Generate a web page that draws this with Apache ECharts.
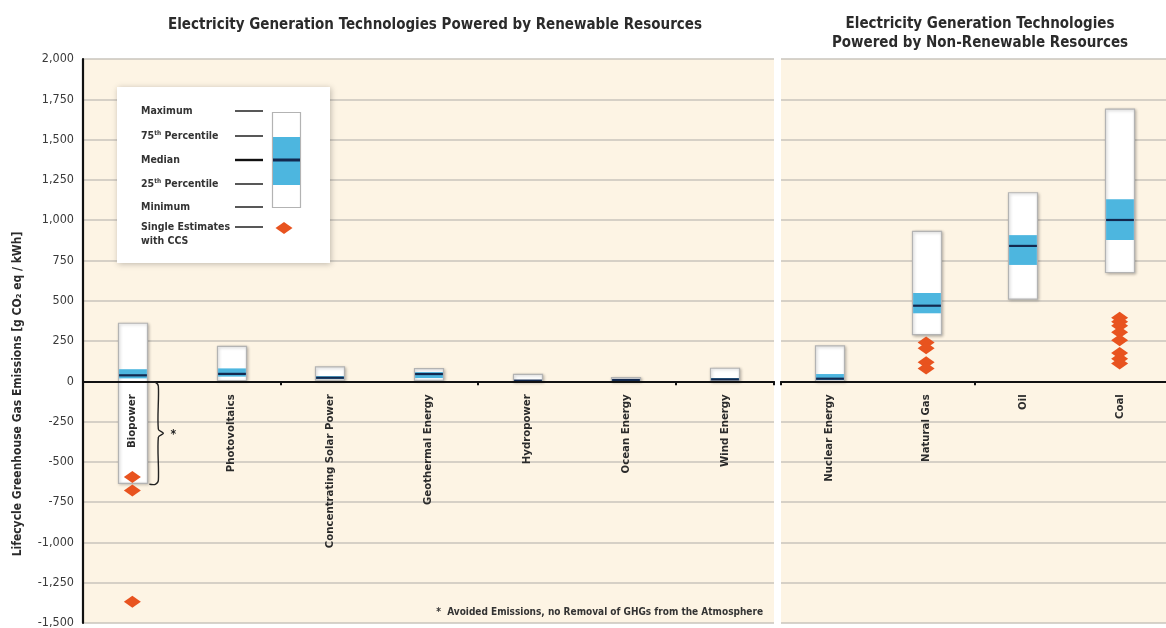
<!DOCTYPE html>
<html><head><meta charset="utf-8">
<script src="https://cdn.jsdelivr.net/npm/echarts@6/dist/echarts.min.js"></script>
<style>html,body{margin:0;padding:0;background:#fff}#c{width:1166px;height:628px}</style>
</head><body><div id="c"></div>
<script>
// ---- data ----
const renewableCategories = ['Biopower','Photovoltaics','Concentrating Solar Power','Geothermal Energy','Hydropower','Ocean Energy','Wind Energy'];
const renewableMin    = [-633, 5, 7, 6, 0, 2, 2];
const renewableQ1     = [18, 29, 14, 20, 3, 6, 8];
const renewableMedian = [37, 46, 22, 45, 4, 8, 12];
const renewableQ3     = [75, 80, 32, 57, 7, 9, 20];
const renewableMax    = [360, 217, 89, 79, 43, 23, 81];

const nonRenewableCategories = ['Nuclear Energy','Natural Gas','Oil','Coal'];
const nonRenewableMin    = [1, 290, 510, 675];
const nonRenewableQ1     = [8, 422, 722, 877];
const nonRenewableMedian = [16, 469, 840, 1001];
const nonRenewableQ3     = [45, 548, 907, 1130];
const nonRenewableMax    = [220, 930, 1170, 1689];

const biopowerCCS   = [-594, -677, -1368];
const naturalGasCCS = [240, 205, 118, 80];
const coalCCS       = [395, 370, 345, 305, 255, 175, 140, 110];

const yMin = -1500, yMax = 2000, yStep = 250;

// ---- build ----
const FONT = '"Liberation Sans Narrow","DejaVu Sans Condensed","Open Sans",sans-serif';
const TXT = '#2b2b2b';

function boxRows(cats, mn, q1, md, q3, mx) {
  return cats.map((c, i) => [i, mn[i], q1[i], md[i], q3[i], mx[i]]);
}
function makeRenderBox(cats) {
  return function (params, api) {
    const x = api.value(0);
    const lo = api.coord([x, api.value(1)]);
    const q1 = api.coord([x, api.value(2)]);
    const md = api.coord([x, api.value(3)]);
    const q3 = api.coord([x, api.value(4)]);
    const hi = api.coord([x, api.value(5)]);
    const zero = api.coord([x, 0]);
    const bw = 29;
    const left = Math.round(lo[0] - bw / 2) + 0.5;
    return {
      type: 'group',
      children: [
        { type: 'rect', shape: { x: left, y: hi[1], width: bw, height: lo[1] - hi[1] },
          style: { fill: '#ffffff', stroke: '#b3b3b3', lineWidth: 1.2, shadowBlur: 3, shadowColor: 'rgba(0,0,0,0.25)', shadowOffsetX: 1, shadowOffsetY: 1 } },
        { type: 'rect', shape: { x: left + 0.6, y: q3[1], width: bw - 1.2, height: q1[1] - q3[1] },
          style: { fill: '#4db6df' } },
        { type: 'line', shape: { x1: left + 0.6, y1: md[1], x2: left + bw - 0.6, y2: md[1] },
          style: { stroke: '#13294f', lineWidth: 2.2 } },
        { type: 'text', x: zero[0], y: zero[1] + 13, rotation: Math.PI / 2, z2: 10,
          style: { text: cats[params.dataIndex], fontFamily: FONT, fontSize: 11.3, fontWeight: 'bold', fill: TXT, align: 'right', verticalAlign: 'middle' } }
      ]
    };
  };
}
function scatterPts(catIndex, vals) { return vals.map(v => [catIndex, v]); }

const gridTop = 59, gridHeight = 564;
const xAxisCommon = {
  type: 'category',
  z: 5,
  axisLine: { onZero: true, lineStyle: { color: '#111', width: 1.8 } },
  axisTick: { show: true, length: 4, lineStyle: { color: '#111', width: 2 } },
  axisLabel: { show: false },
  splitLine: { show: false }
};
const yAxisCommon = {
  type: 'value', min: yMin, max: yMax, interval: yStep,
  splitLine: { show: true, lineStyle: { color: '#c9c4bc', width: 1.6 } },
  axisTick: { show: false }
};

const option = {
  animation: false,
  backgroundColor: '#ffffff',
  title: [
    { text: 'Electricity Generation Technologies Powered by Renewable Resources',
      left: 430, top: 13, textAlign: 'center',
      textStyle: { fontFamily: FONT, fontSize: 15, fontWeight: 'bold', color: TXT } },
    { text: 'Electricity Generation Technologies\nPowered by Non-Renewable Resources',
      left: 975, top: 10, textAlign: 'center',
      textStyle: { fontFamily: FONT, fontSize: 15, fontWeight: 'bold', color: TXT, lineHeight: 19, align: 'center' } }
  ],
  grid: [
    { left: 83, top: gridTop, width: 691, height: gridHeight, show: true, backgroundColor: '#fdf4e4', borderWidth: 0, containLabel: false, outerBoundsMode: 'none' },
    { left: 781, top: gridTop, width: 387, height: gridHeight, show: true, backgroundColor: '#fdf4e4', borderWidth: 0, containLabel: false, outerBoundsMode: 'none' }
  ],
  xAxis: [
    Object.assign({ gridIndex: 0, data: renewableCategories }, xAxisCommon),
    Object.assign({ gridIndex: 1, data: nonRenewableCategories }, xAxisCommon)
  ],
  yAxis: [
    Object.assign({ gridIndex: 0,
      axisLine: { show: true, lineStyle: { color: '#111', width: 2.2 } },
      axisLabel: { fontFamily: FONT, fontSize: 12.5, color: '#3a3a3a', margin: 9,
        formatter: v => v.toLocaleString('en-US') } }, yAxisCommon),
    Object.assign({ gridIndex: 1, axisLine: { show: false }, axisLabel: { show: false } }, yAxisCommon)
  ],
  series: [
    { type: 'custom', xAxisIndex: 0, yAxisIndex: 0, z: 2, renderItem: makeRenderBox(renewableCategories), clip: false,
      encode: { x: 0, y: [1, 5] },
      data: boxRows(renewableCategories, renewableMin, renewableQ1, renewableMedian, renewableQ3, renewableMax) },
    { type: 'custom', xAxisIndex: 1, yAxisIndex: 1, z: 2, renderItem: makeRenderBox(nonRenewableCategories), clip: false,
      encode: { x: 0, y: [1, 5] },
      data: boxRows(nonRenewableCategories, nonRenewableMin, nonRenewableQ1, nonRenewableMedian, nonRenewableQ3, nonRenewableMax) },
    { type: 'scatter', xAxisIndex: 0, yAxisIndex: 0, z: 6, symbol: 'diamond', symbolSize: [17, 12],
      itemStyle: { color: '#e8531f', opacity: 1 }, data: scatterPts(0, biopowerCCS) },
    { type: 'scatter', xAxisIndex: 1, yAxisIndex: 1, z: 6, symbol: 'diamond', symbolSize: [17, 12],
      itemStyle: { color: '#e8531f', opacity: 1 },
      data: scatterPts(1, naturalGasCCS).concat(scatterPts(3, coalCCS)) }
  ]
};

const chart = echarts.init(document.getElementById('c'), null, { renderer: 'canvas' });
chart.setOption(option);

// ---- overlays: legend, brace, axis title, footnote ----
const p0 = chart.convertToPixel({ xAxisIndex: 0, yAxisIndex: 0 }, [0, 0]);
const pMin = chart.convertToPixel({ xAxisIndex: 0, yAxisIndex: 0 }, [0, renewableMin[0]]);
const bx = p0[0] + 26, by0 = p0[1] + 1, by1 = pMin[1] + 1, bym = (by0 + by1) / 2;
const bracePts = [[bx - 9, by0], [bx - 3, by0], [bx, by0 + 4], [bx, bym - 4], [bx + 5, bym], [bx, bym + 4], [bx, by1 - 4], [bx - 3, by1], [bx - 9, by1]];

const legendRows = [
  { y: 111, text: 'Maximum' },
  { y: 136, text: '75{sup|th} Percentile' },
  { y: 160, text: 'Median' },
  { y: 184, text: '25{sup|th} Percentile' },
  { y: 207, text: 'Minimum' },
  { y: 227, text: 'Single Estimates' }
];
const legendEls = [
  { type: 'rect', shape: { x: 117, y: 87, width: 213, height: 176 },
    style: { fill: '#ffffff', shadowBlur: 6, shadowColor: 'rgba(0,0,0,0.25)', shadowOffsetX: 1, shadowOffsetY: 1 } }
];
legendRows.forEach((r, i) => {
  legendEls.push({ type: 'text', x: 141, y: r.y, style: { text: r.text, fontFamily: FONT, fontSize: 10.5, fontWeight: 'bold', fill: '#333', verticalAlign: 'middle',
    rich: { sup: { fontSize: 6.5, verticalAlign: 'top', fontFamily: FONT, fontWeight: 'bold', fill: '#333', padding: [0, 0, 6, 0] } } } });
  legendEls.push({ type: 'line', shape: { x1: 235, y1: r.y, x2: 263, y2: r.y }, style: { stroke: '#111', lineWidth: i === 2 ? 2.4 : 1.4 } });
});
legendEls.push({ type: 'text', x: 141, y: 241, style: { text: 'with CCS', fontFamily: FONT, fontSize: 10.5, fontWeight: 'bold', fill: '#333', verticalAlign: 'middle' } });
legendEls.push({ type: 'rect', shape: { x: 272.5, y: 112.5, width: 28, height: 95 }, style: { fill: '#fff', stroke: '#b3b3b3', lineWidth: 1.2 } });
legendEls.push({ type: 'rect', shape: { x: 273, y: 137, width: 27, height: 48 }, style: { fill: '#4db6df' } });
legendEls.push({ type: 'line', shape: { x1: 273, y1: 160, x2: 300, y2: 160 }, style: { stroke: '#13294f', lineWidth: 3 } });
legendEls.push({ type: 'polygon', shape: { points: [[284, 222], [292.5, 228], [284, 234], [275.5, 228]] }, style: { fill: '#e8531f' } });

chart.setOption({
  graphic: [
    { type: 'group', z: 20, children: legendEls },
    { type: 'polyline', z: 20, shape: { points: bracePts, smooth: 0.3 }, style: { fill: null, stroke: '#222', lineWidth: 1.4 } },
    { type: 'text', z: 20, x: bx + 15, y: bym + 2, style: { text: '*', fontFamily: FONT, fontSize: 12, fontWeight: 'bold', fill: '#222', align: 'center', verticalAlign: 'middle' } },
    { type: 'text', z: 20, x: 18, y: 394, rotation: Math.PI / 2,
      style: { text: 'Lifecycle Greenhouse Gas Emissions [g CO₂ eq / kWh]', fontFamily: FONT, fontSize: 12, fontWeight: 'bold', fill: TXT, align: 'center', verticalAlign: 'middle' } },
    { type: 'text', z: 20, x: 763, y: 612,
      style: { text: '*  Avoided Emissions, no Removal of GHGs from the Atmosphere', fontFamily: FONT, fontSize: 10, fontWeight: 'bold', fill: '#333', align: 'right', verticalAlign: 'middle' } }
  ]
});
</script></body></html>
